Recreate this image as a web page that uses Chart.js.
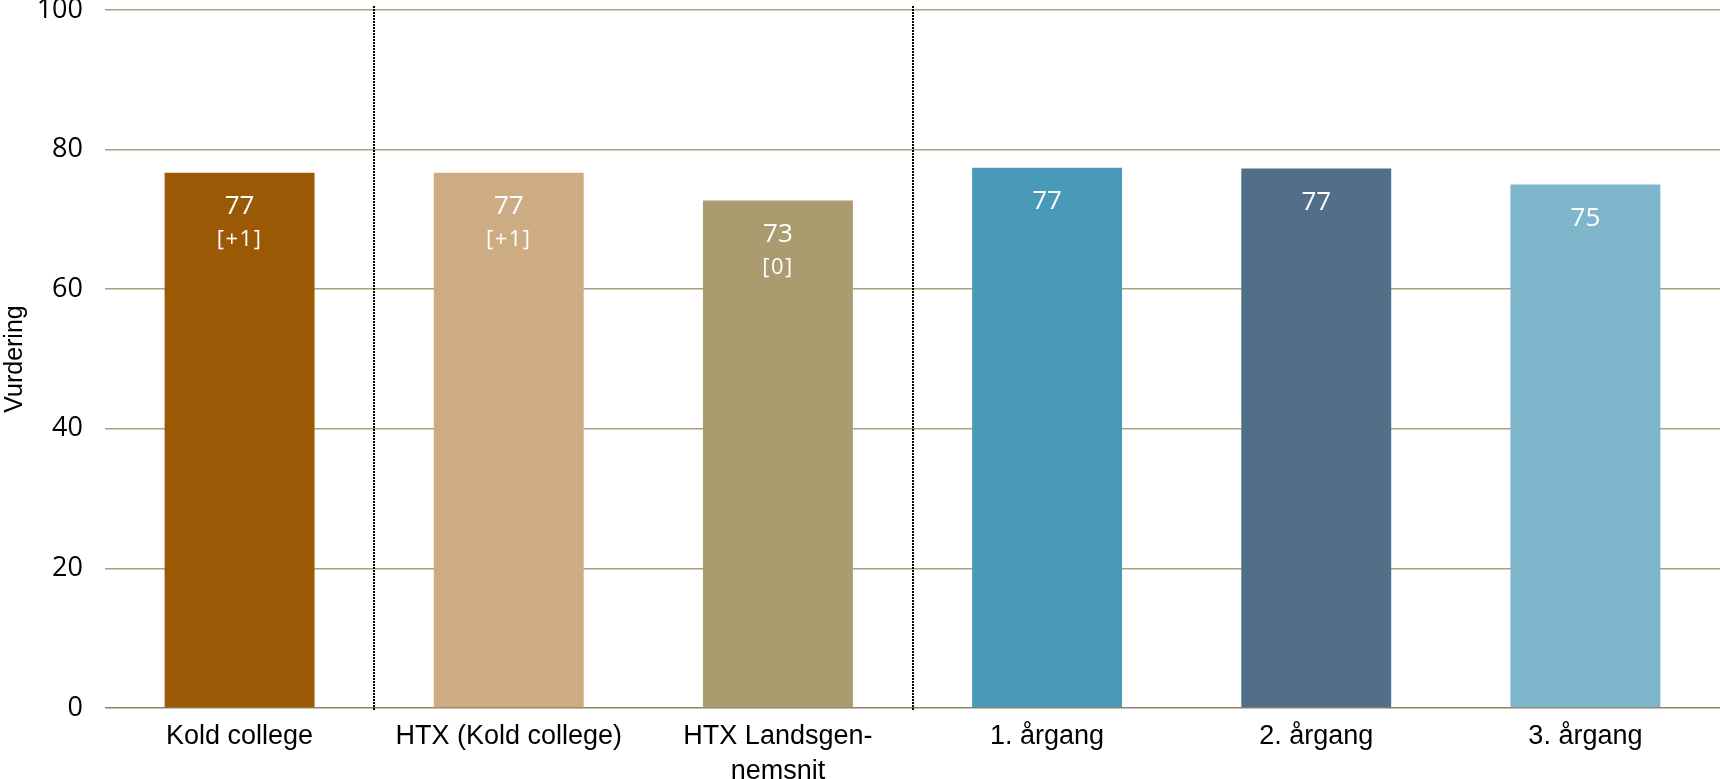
<!DOCTYPE html>
<html>
<head>
<meta charset="utf-8">
<script src="https://cdn.jsdelivr.net/npm/chart.js@4/dist/chart.umd.min.js"></script>
<style>
    html, body { margin: 0; padding: 0; background: #fff; }
    #wrap { width: 1720px; height: 779px; }
</style>
</head>
<body>
<div id="wrap"><canvas id="canvas" width="1720" height="779"></canvas></div>
<script>
var categories = ['Kold college', 'HTX (Kold college)', ['HTX Landsgen-', 'nemsnit'], '1. årgang', '2. årgang', '3. årgang'];
var values = [76.7, 76.7, 72.7, 77.4, 77.3, 75.0];
var valueLabels = ['77', '77', '73', '77', '77', '75'];
var changeLabels = ['[+1]', '[+1]', '[0]', '', '', ''];
var barColors = ['#9B5905', '#CDAC84', '#AA9C6E', '#499AB8', '#526F8A', '#7FB6CB'];
var groupBreaks = [1, 3];   // dotted line drawn before these categories
var yTicks = [0, 20, 40, 60, 80, 100];

var barLabels = {
    id: 'barLabels',
    afterDatasetsDraw: function (chart) {
        var ctx = chart.ctx;
        var meta = chart.getDatasetMeta(0);
        ctx.save();
        ctx.fillStyle = '#ffffff';
        ctx.textAlign = 'center';
        ctx.textBaseline = 'middle';
        meta.data.forEach(function (bar, i) {
            ctx.font = '26px "Open Sans"';
            ctx.letterSpacing = '0px';
            ctx.fillText(valueLabels[i], bar.x, bar.y + 34);
            if (changeLabels[i]) {
                ctx.font = '22px "Open Sans"';
                ctx.letterSpacing = '1.5px';
                ctx.fillText(changeLabels[i], bar.x, bar.y + 67);
            }
        });
        ctx.restore();
    }
};

var groupLines = {
    id: 'groupLines',
    afterDatasetsDraw: function (chart) {
        var ctx = chart.ctx;
        var x = chart.scales.x;
        var area = chart.chartArea;
        ctx.save();
        ctx.strokeStyle = '#000';
        ctx.lineWidth = 2;
        ctx.setLineDash([2, 1]);
        groupBreaks.forEach(function (i) {
            var px = Math.round((x.getPixelForValue(i - 1) + x.getPixelForValue(i)) / 2);
            ctx.beginPath();
            ctx.moveTo(px, area.top - 4);
            ctx.lineTo(px, area.bottom + 3);
            ctx.stroke();
        });
        ctx.restore();
    }
};

new Chart(document.getElementById('canvas'), {
    type: 'bar',
    data: {
        labels: categories,
        datasets: [{
            data: values,
            backgroundColor: barColors,
            borderWidth: 0,
            categoryPercentage: 1,
            barPercentage: 0.557
        }]
    },
    options: {
        responsive: false,
        animation: false,
        layout: { padding: { top: 10, right: 0, left: 0, bottom: 0 } },
        plugins: {
            legend: { display: false },
            tooltip: { enabled: false }
        },
        scales: {
            x: {
                grid: { display: false, drawTicks: false },
                border: { display: false },
                ticks: {
                    color: '#000',
                    padding: 11,
                    maxRotation: 0,
                    autoSkip: false,
                    font: { family: '"Liberation Sans", Arial', size: 27, lineHeight: 1.3 }
                },
                afterFit: function (s) { s.height = 71; }
            },
            y: {
                min: 0,
                max: 100,
                afterBuildTicks: function (s) {
                    s.ticks = yTicks.map(function (v) { return { value: v }; });
                },
                grid: {
                    drawTicks: false,
                    lineWidth: 1.5,
                    color: function (c) { return c.tick.value === 0 ? '#8E8262' : '#AAA181'; }
                },
                border: { display: false },
                ticks: {
                    color: '#000',
                    padding: 22,
                    font: { family: '"Open Sans"', size: 27 }
                },
                title: {
                    display: true,
                    text: 'Vurdering',
                    color: '#000',
                    padding: { top: 0, bottom: 0 },
                    font: { family: '"Liberation Sans", Arial', size: 25, lineHeight: 1.2 }
                },
                afterFit: function (s) {
                    s.width = 105;
                    s.paddingTop = 0;
                    s.paddingBottom = 0;
                }
            }
        }
    },
    plugins: [barLabels, groupLines]
});
</script>
</body>
</html>
